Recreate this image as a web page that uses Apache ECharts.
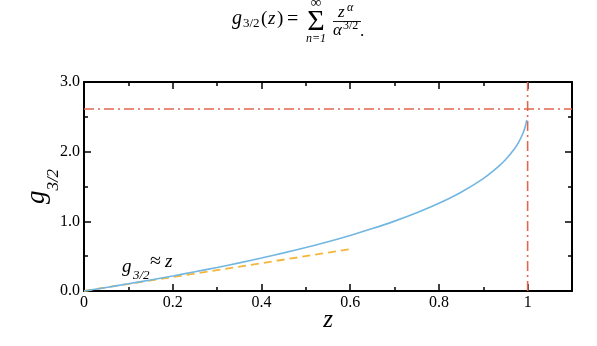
<!DOCTYPE html>
<html>
<head>
<meta charset="utf-8">
<script src="https://cdn.jsdelivr.net/npm/echarts@6/dist/echarts.min.js"></script>
<style>
  html, body { margin: 0; padding: 0; background: #fff; }
  #chart { width: 597px; height: 346px; }
</style>
</head>
<body>
<div id="chart"></div>
<script>
// g_{3/2}(z)
const zValues = [0, 0.05, 0.1, 0.15, 0.2, 0.25, 0.3, 0.35, 0.4, 0.45, 0.5, 0.55, 0.6, 0.65, 0.7, 0.75, 0.8, 0.85, 0.9, 0.93, 0.95, 0.97, 0.98, 0.99, 0.995, 0.998];
const gValues = [0, 0.051, 0.104, 0.159, 0.216, 0.276, 0.338, 0.404, 0.473, 0.547, 0.625, 0.708, 0.798, 0.896, 1.003, 1.123, 1.259, 1.418, 1.614, 1.763, 1.884, 2.038, 2.138, 2.272, 2.369, 2.457];
// small-z approximation g ≈ z
const approxZ = [0, 0.6];
const approxG = [0, 0.6];
// zeta(3/2) and z = 1 guides
const zeta32 = 2.612;
const zCrit = 1;
const xTicks = ['0', '0.2', '0.4', '0.6', '0.8', '1'];
const yTicks = ['0.0', '1.0', '2.0', '3.0'];

const serif = '"Liberation Serif", "DejaVu Serif", serif';
const blue = '#72b6e2';
const orange = '#f4b63a';
const red = '#e2664f';

const curve = zValues.map((z, i) => [z, gValues[i]]);
const approx = approxZ.map((z, i) => [z, approxG[i]]);

const chart = echarts.init(document.getElementById('chart'), null, { renderer: 'canvas' });

const tickStyle = { color: '#000', width: 1.5 };

// little helper for the formula pieces
const txt = (x, y, text, font, align) => ({
  type: 'text', x: x, y: y,
  style: { text: text, font: font, fill: '#000', align: align || 'left', verticalAlign: 'middle' }
});

const option = {
  animation: false,
  backgroundColor: '#fff',
  grid: { left: 84, right: 25, top: 82, bottom: 55, containLabel: false, outerBoundsMode: 'none' },
  xAxis: [
    {
      type: 'value', min: 0, max: 1.1, interval: 0.2,
      name: 'z', nameLocation: 'middle', nameGap: 17, nameMoveOverlap: false,
      nameTextStyle: { fontFamily: serif, fontStyle: 'italic', fontSize: 25, color: '#000' },
      axisLine: { onZero: false, lineStyle: { color: '#000', width: 2 } },
      axisTick: { inside: true, length: 7, lineStyle: tickStyle },
      minorTick: { show: true, splitNumber: 2, length: 4, lineStyle: tickStyle },
      splitLine: { show: false },
      axisLabel: {
        fontFamily: serif, fontSize: 16, color: '#000', margin: 4,
        formatter: v => {
          const idx = Math.round(v / 0.2);
          return Math.abs(v - idx * 0.2) < 1e-6 && xTicks[idx] !== undefined ? xTicks[idx] : '';
        }
      }
    },
    {
      type: 'value', min: 0, max: 1.1, interval: 0.2, position: 'top',
      axisLine: { onZero: false, lineStyle: { color: '#000', width: 2 } },
      axisTick: { inside: true, length: 7, lineStyle: tickStyle },
      minorTick: { show: true, splitNumber: 2, length: 4, lineStyle: tickStyle },
      splitLine: { show: false },
      axisLabel: { show: false }
    }
  ],
  yAxis: [
    {
      type: 'value', min: 0, max: 3, interval: 1,
      name: '{g|g}{s|3/2}', nameLocation: 'middle', nameGap: 34, nameRotate: 90, nameMoveOverlap: false,
      nameTextStyle: {
        rich: {
          g: { fontFamily: serif, fontStyle: 'italic', fontSize: 27, color: '#000', verticalAlign: 'bottom', lineHeight: 30 },
          s: { fontFamily: serif, fontStyle: 'italic', fontSize: 17, color: '#000', verticalAlign: 'bottom', lineHeight: 30, padding: [0, 0, -12, 0] }
        }
      },
      axisLine: { onZero: false, lineStyle: { color: '#000', width: 2 } },
      axisTick: { inside: true, length: 7, lineStyle: tickStyle },
      minorTick: { show: true, splitNumber: 2, length: 4, lineStyle: tickStyle },
      splitLine: { show: false },
      axisLabel: {
        fontFamily: serif, fontSize: 16, color: '#000', margin: 4,
        formatter: v => yTicks[Math.round(v)] || ''
      }
    },
    {
      type: 'value', min: 0, max: 3, interval: 1, position: 'right',
      axisLine: { onZero: false, lineStyle: { color: '#000', width: 2 } },
      axisTick: { inside: true, length: 7, lineStyle: tickStyle },
      minorTick: { show: true, splitNumber: 2, length: 4, lineStyle: tickStyle },
      splitLine: { show: false },
      axisLabel: { show: false }
    }
  ],
  series: [
    {
      name: 'zeta', type: 'line', showSymbol: false, silent: true,
      data: [[0, zeta32], [1.1, zeta32]],
      lineStyle: { color: red, width: 1.6, type: [10, 4, 2, 4] }
    },
    {
      name: 'zc', type: 'line', showSymbol: false, silent: true,
      data: [[zCrit, 0], [zCrit, 3]],
      lineStyle: { color: red, width: 1.6, type: [10, 4, 2, 4] }
    },
    {
      name: 'approx', type: 'line', showSymbol: false, silent: true,
      data: approx,
      lineStyle: { color: orange, width: 1.8, type: [8, 5] }
    },
    {
      name: 'g32', type: 'line', showSymbol: false, silent: true, smooth: 0.3,
      data: curve,
      lineStyle: { color: blue, width: 1.6 }
    }
  ],
  graphic: [
    // formula title: g_{3/2}(z) = sum_{n=1}^inf z^a / a^{3/2}.
    txt(232, 19, 'g', 'italic 20px ' + serif),
    txt(243, 24, '3/2', '13px ' + serif),
    txt(261, 19, '(', '19px ' + serif),
    txt(268, 19, 'z', 'italic 19px ' + serif),
    txt(277, 19, ')', '19px ' + serif),
    txt(287, 20, '=', '20px ' + serif),
    txt(316, 3, '∞', '15px ' + serif, 'center'),
    txt(316, 22, 'Σ', '30px ' + serif, 'center'),
    txt(316, 39, 'n=1', 'italic 12px ' + serif, 'center'),
    txt(338, 13, 'z', 'italic 17px ' + serif),
    txt(347, 8, 'α', 'italic 12px ' + serif),
    { type: 'rect', shape: { x: 333, y: 21, width: 28, height: 0.9 }, style: { fill: '#000' } },
    txt(333, 31, 'α', 'italic 17px ' + serif),
    txt(343, 26, '3/2', '12px ' + serif),
    txt(360, 32, '.', '17px ' + serif),
    // annotation
    txt(122, 267, 'g', 'italic 19px ' + serif),
    txt(133, 276, '3/2', 'italic 13px ' + serif),
    txt(150, 262, '≈', '20px ' + serif),
    txt(165, 262, 'z', 'italic 19px ' + serif)
  ]
};

chart.setOption(option);
</script>
</body>
</html>
